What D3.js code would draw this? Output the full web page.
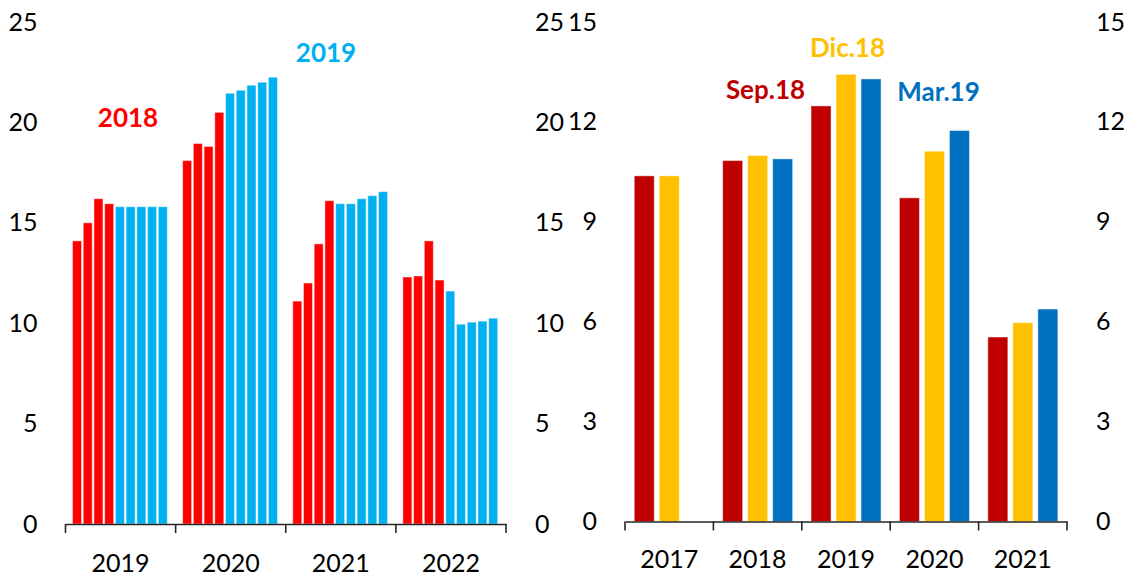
<!DOCTYPE html>
<html lang="en">
  <head>
    <meta charset='utf-8'>
    <script src='https://d3js.org/d3.v7.min.js'></script>
    <title>Two panel bars</title>
    <style>
      body {
        margin: 0px;
        background: #fff;
      }
      .domain {
        stroke: #262626;
        stroke-width: 1.6px;
      }
      .tick text {
        fill: #000;
        font-size: 25px;
        font-family: Lato, sans-serif;
      }
      .annot {
        font-size: 26px;
        font-weight: bold;
        font-family: Lato, sans-serif;
        text-anchor: middle;
      }
    </style>
  </head>
  <body>
    <svg id='chart' width='1131' height='579'></svg>
    <script>
      // left panel: 4 red bars (2018 vintage) + 5 blue bars (2019 vintage) per year
      const leftYears = ['2019', '2020', '2021', '2022'];
      const red2018 = [
        [14.1, 15.0, 16.2, 15.95],
        [18.1, 18.95, 18.8, 20.5],
        [11.1, 12.0, 13.95, 16.1],
        [12.3, 12.35, 14.1, 12.15]
      ];
      const blue2019 = [
        [15.8, 15.8, 15.8, 15.8, 15.8],
        [21.45, 21.6, 21.85, 22.0, 22.25],
        [15.95, 15.95, 16.2, 16.35, 16.55],
        [11.6, 9.95, 10.05, 10.1, 10.25]
      ];
      const leftTicks = [0, 5, 10, 15, 20, 25];

      // right panel: three forecast vintages per year
      const rightYears = ['2017', '2018', '2019', '2020', '2021'];
      const sep18 = [10.38, 10.84, 12.48, 9.72, 5.54];
      const dic18 = [10.38, 10.99, 13.43, 11.12, 5.97];
      const mar19 = [null, 10.89, 13.29, 11.74, 6.38];
      const rightTicks = [0, 3, 6, 9, 12, 15];

      const svg = d3.select('#chart');

      // ---------- left panel ----------
      const xL = d3.scaleBand().domain(leftYears).range([65.5, 506]);
      const yL = d3.scaleLinear().domain([0, 25]).range([524, 22]);
      const slotL = d3.scaleBand().domain(d3.range(9)).range([7, 101.8]).paddingInner(0.16);

      const leftBars = [];
      leftYears.forEach((yr, i) => {
        red2018[i].forEach((v, j) => leftBars.push({ yr, slot: j, v, c: '#FF0000' }));
        blue2019[i].forEach((v, j) => leftBars.push({ yr, slot: j + 4, v, c: '#00B0F0' }));
      });

      const gL = svg.append('g');
      gL.selectAll('rect').data(leftBars).enter().append('rect')
        .attr('x', d => xL(d.yr) + slotL(d.slot))
        .attr('width', slotL.bandwidth())
        .attr('y', d => yL(d.v))
        .attr('height', d => yL(0) - yL(d.v))
        .attr('fill', d => d.c)
        .attr('stroke', '#fff')
        .attr('stroke-opacity', 0.45)
        .attr('stroke-width', 1);

      drawCatAxis(gL, xL, yL(0), 30);
      gL.append('g').attr('transform', `translate(${xL.range()[0]},0)`)
        .call(d3.axisLeft(yL).tickValues(leftTicks).tickSize(0).tickPadding(28))
        .call(g => g.select('.domain').remove());
      gL.append('g').attr('transform', `translate(${xL.range()[1]},0)`)
        .call(d3.axisRight(yL).tickValues(leftTicks).tickSize(0).tickPadding(29))
        .call(g => g.select('.domain').remove());

      // ---------- right panel ----------
      const xR = d3.scaleBand().domain(rightYears).range([625, 1067]);
      const yR = d3.scaleLinear().domain([0, 15]).range([521.5, 22]);
      const series = [
        { key: 'Sep.18', vals: sep18, c: '#C00000' },
        { key: 'Dic.18', vals: dic18, c: '#FFC000' },
        { key: 'Mar.19', vals: mar19, c: '#0070C0' }
      ];
      const slotR = d3.scaleBand().domain(series.map(s => s.key)).range([9.25, 79.25]).paddingInner(0.2);

      const rightBars = [];
      series.forEach(s => s.vals.forEach((v, i) => {
        if (v != null) rightBars.push({ yr: rightYears[i], key: s.key, v, c: s.c });
      }));

      const gR = svg.append('g');
      gR.selectAll('rect').data(rightBars).enter().append('rect')
        .attr('x', d => xR(d.yr) + slotR(d.key))
        .attr('width', slotR.bandwidth())
        .attr('y', d => yR(d.v))
        .attr('height', d => yR(0) - yR(d.v))
        .attr('fill', d => d.c)
        .attr('stroke', '#fff')
        .attr('stroke-opacity', 0.45)
        .attr('stroke-width', 1);

      drawCatAxis(gR, xR, yR(0), 28.5);
      gR.append('g').attr('transform', `translate(${xR.range()[0]},0)`)
        .call(d3.axisLeft(yR).tickValues(rightTicks).tickSize(0).tickPadding(28))
        .call(g => g.select('.domain').remove());
      gR.append('g').attr('transform', `translate(${xR.range()[1]},0)`)
        .call(d3.axisRight(yR).tickValues(rightTicks).tickSize(0).tickPadding(29))
        .call(g => g.select('.domain').remove());

      // ---------- annotations ----------
      const leftNotes = [
        { t: '2018', x: 128, y: 127, c: '#FF0000' },
        { t: '2019', x: 326, y: 62, c: '#00B0F0' }
      ];
      const rightNotes = [
        { t: 'Sep.18', x: 765.5, y: 99, c: '#C00000' },
        { t: 'Dic.18', x: 847.5, y: 57, c: '#FFC000' },
        { t: 'Mar.19', x: 938.5, y: 101, c: '#0070C0' }
      ];
      svg.selectAll('text.annot').data(leftNotes.concat(rightNotes)).enter().append('text')
        .attr('class', 'annot')
        .attr('x', d => d.x)
        .attr('y', d => d.y)
        .attr('fill', d => d.c)
        .text(d => d.t);

      // category axis with Excel-like ticks between categories
      function drawCatAxis(g, x, y0, pad) {
        const ax = g.append('g').attr('transform', `translate(0,${y0})`)
          .call(d3.axisBottom(x).tickSize(0).tickPadding(pad));
        const edges = x.domain().map(d => x(d)).concat([x.range()[1]]);
        ax.selectAll('line.sep').data(edges).enter().append('line')
          .attr('class', 'sep')
          .attr('x1', d => d).attr('x2', d => d)
          .attr('y1', 0).attr('y2', 9)
          .attr('stroke', '#262626')
          .attr('stroke-width', 1.6);
      }
    </script>
  </body>
</html>
